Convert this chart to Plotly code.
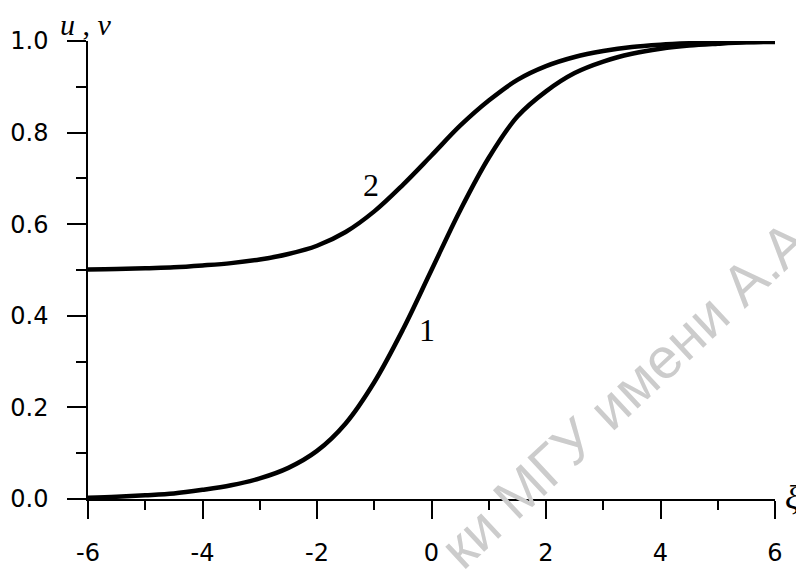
import plotly.graph_objects as go

# Data
xi = [-6, -5.5, -5, -4.5, -4, -3.5, -3, -2.5, -2, -1.5, -1, -0.5, 0,
      0.5, 1, 1.5, 2, 2.5, 3, 3.5, 4, 4.5, 5, 5.5, 6]
u_curve1 = [0.003, 0.005, 0.008, 0.012, 0.02, 0.03, 0.045, 0.068, 0.105, 0.165, 0.255,
            0.37, 0.5, 0.63, 0.745, 0.835, 0.89, 0.93, 0.955, 0.972, 0.983, 0.99,
            0.994, 0.997, 0.998]
v_curve2 = [0.501, 0.502, 0.504, 0.506, 0.51, 0.515, 0.523, 0.535, 0.553, 0.583, 0.628,
            0.686, 0.75, 0.815, 0.87, 0.915, 0.945, 0.965, 0.978, 0.987, 0.992, 0.995,
            0.997, 0.998, 0.999]
x_ticks = [-6, -4, -2, 0, 2, 4, 6]
y_ticks = [0.0, 0.2, 0.4, 0.6, 0.8, 1.0]
curve_labels = ["1", "2"]
label_pos_x = [-0.07, -1.05]
label_pos_y = [0.37, 0.685]

fig = go.Figure()
for yv in (u_curve1, v_curve2):
    fig.add_trace(go.Scatter(x=xi, y=yv, mode="lines", line=dict(color="black", width=4.5, shape="spline"),
                             showlegend=False, hoverinfo="skip"))

for t, lx, ly in zip(curve_labels, label_pos_x, label_pos_y):
    fig.add_annotation(x=lx, y=ly, text=t, showarrow=False, xref="x", yref="y",
                       xanchor="center", yanchor="middle",
                       font=dict(family="Liberation Serif", size=32, color="black"))

tickfont = dict(family="DejaVu Sans", size=24, color="black")
fig.update_xaxes(range=[-6, 6], tickvals=x_ticks, ticktext=[str(v) for v in x_ticks],
                 ticks="outside", ticklen=18, tickwidth=1.5, tickcolor="black",
                 showline=True, linecolor="black", linewidth=1.5, showgrid=False, zeroline=False,
                 tickfont=tickfont, ticklabelstandoff=13, automargin=False,
                 minor=dict(dtick=1, tick0=-6, ticks="outside", ticklen=9, tickwidth=1.5, tickcolor="black"))
fig.update_yaxes(range=[0, 1.0], tickvals=y_ticks, ticktext=["%.1f" % v for v in y_ticks],
                 ticks="outside", ticklen=19, tickwidth=1.5, tickcolor="black",
                 showline=True, linecolor="black", linewidth=1.5, showgrid=False, zeroline=False,
                 tickfont=tickfont, ticklabelstandoff=14, automargin=False,
                 minor=dict(dtick=0.1, tick0=0, ticks="outside", ticklen=10, tickwidth=1.5, tickcolor="black"))

# axis titles
fig.add_annotation(x=-0.043, y=1.036, xref="paper", yref="paper", text="<i>u</i> , <i>v</i>",
                   showarrow=False, xanchor="left", yanchor="middle",
                   font=dict(family="Liberation Serif", size=30, color="black"))
fig.add_annotation(x=1.011, y=0.004, xref="paper", yref="paper", text="<i>ξ</i>",
                   showarrow=False, xanchor="left", yanchor="middle",
                   font=dict(family="Liberation Serif", size=34, color="black"))

# faint watermark
fig.add_annotation(x=0.78, y=0.23, xref="paper", yref="paper", text="ки МГУ имени А.А",
                   showarrow=False, textangle=-43, xanchor="center", yanchor="middle",
                   font=dict(family="Liberation Sans", size=57, color="#cccccc"))

# page body has an 8px margin, so the figure is 8px smaller than the window
fig.update_layout(width=796, height=561, paper_bgcolor="white", plot_bgcolor="white",
                  margin=dict(l=80, r=29, t=33, b=70, autoexpand=False))
fig.write_html("out.html")
